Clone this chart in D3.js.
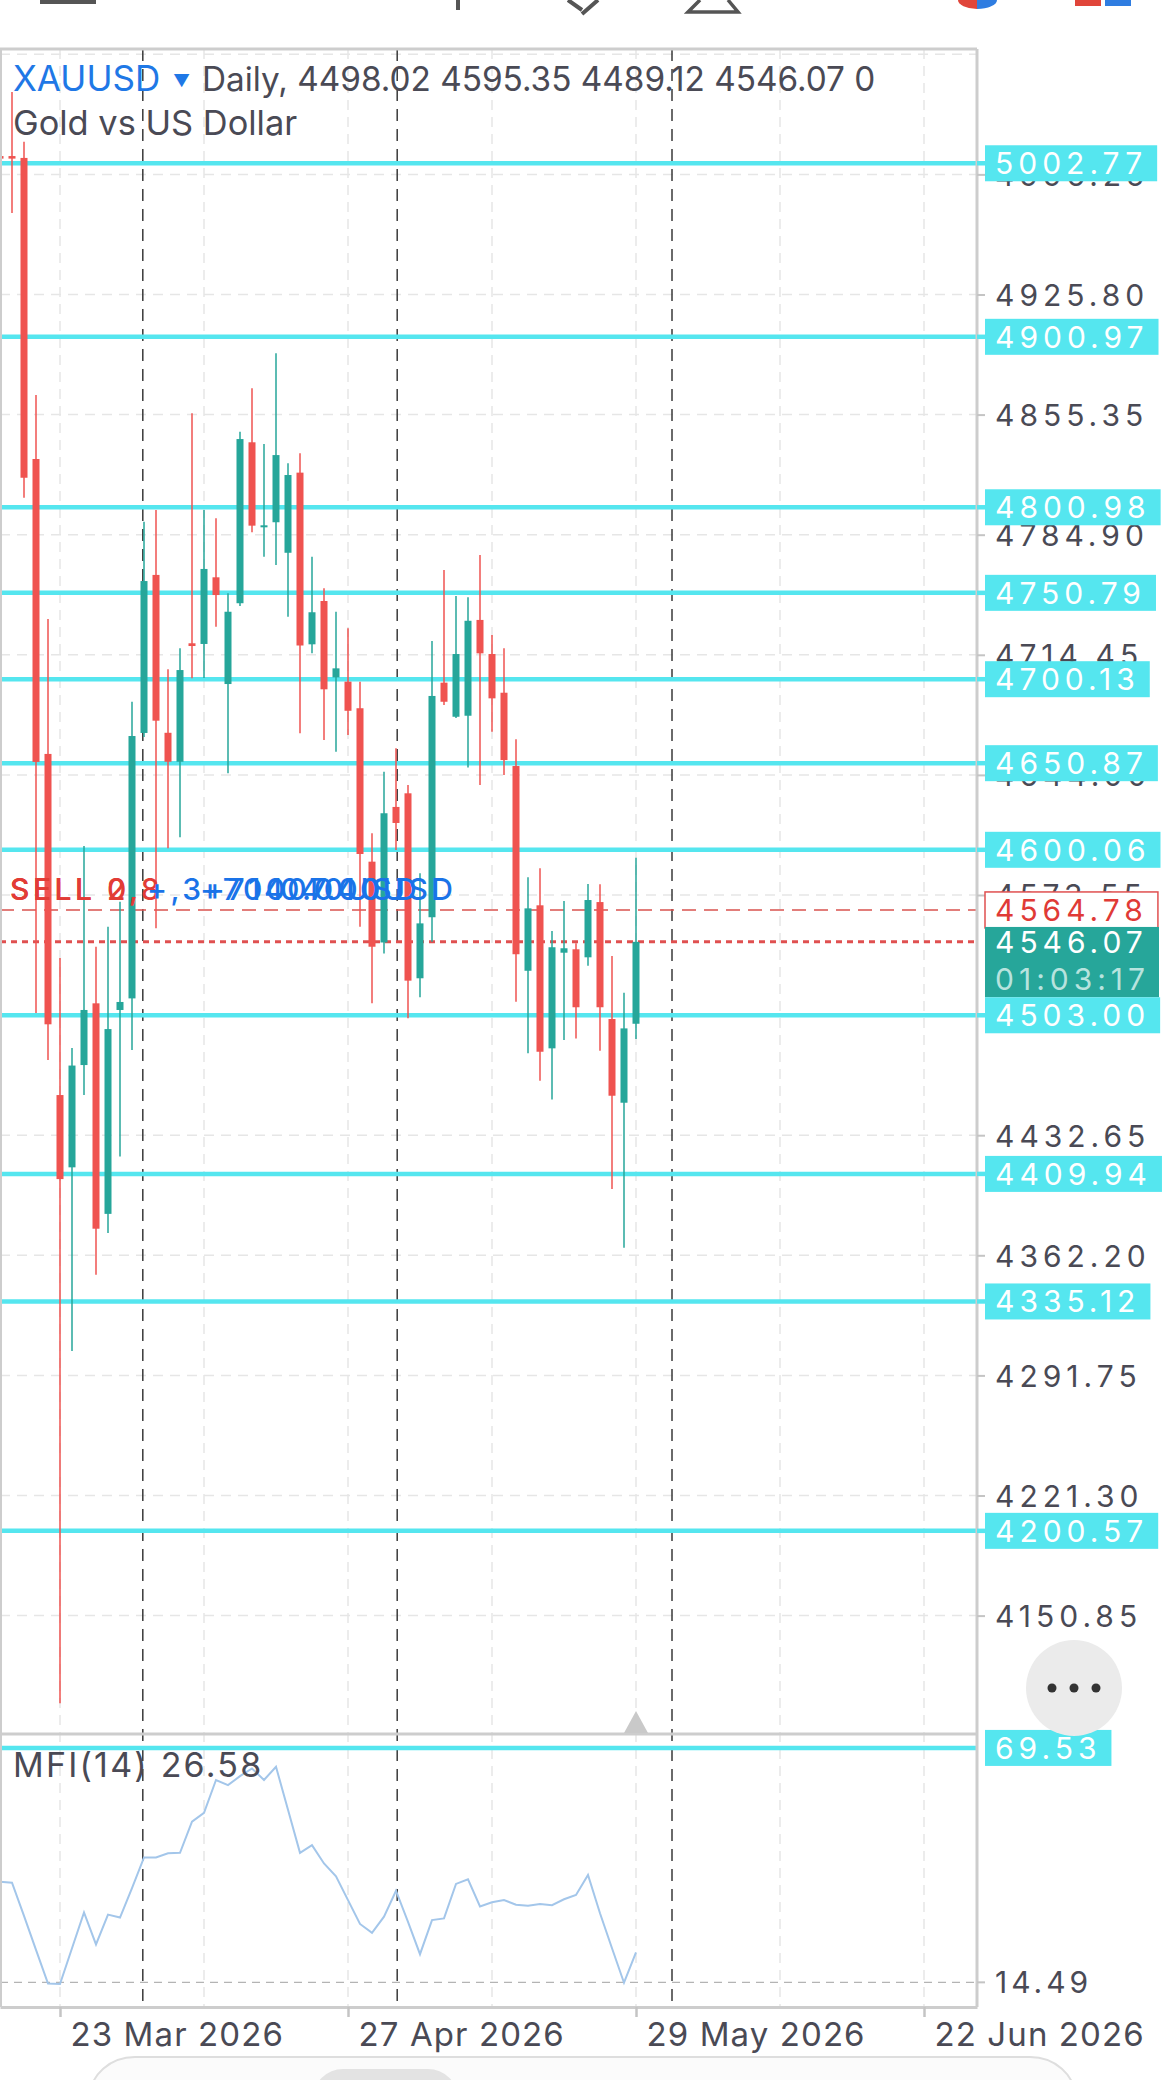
<!DOCTYPE html>
<html>
<head>
<meta charset="utf-8">
<script src="https://cdn.jsdelivr.net/npm/d3@7"></script>
<style>
  html, body { margin: 0; padding: 0; background: #ffffff; }
  svg { display: block; }
</style>
</head>
<body>
<div id="chart"></div>
<script>
// ---- data (daily XAUUSD bars, oldest first) ----
var opens  = [5007.0, 5007.0, 5005.9, 4829.3, 4656.3, 4456.2, 4413.8, 4473.8, 4510.0, 4386.5,
              4506.1, 4512.9, 4668.6, 4761.3, 4668.7, 4651.7, 4721.2, 4720.8, 4759.9, 4697.3,
              4744.7, 4839.1, 4790.0, 4792.2, 4774.3, 4821.3, 4720.6, 4746.0, 4701.2, 4698.7,
              4683.1, 4593.1, 4545.7, 4625.2, 4633.2, 4524.7, 4560.5, 4698.1, 4678.1, 4678.7,
              4734.9, 4714.9, 4692.2, 4649.2, 4529.1, 4567.5, 4483.6, 4539.7, 4541.7, 4537.0,
              4569.4, 4500.8, 4451.7, 4498.02];
var highs  = [5010.0, 5044.6, 5015.4, 4866.8, 4735.4, 4536.6, 4483.8, 4602.3, 4543.2, 4554.9,
              4569.6, 4686.9, 4792.5, 4799.4, 4705.9, 4718.3, 4856.1, 4799.4, 4794.5, 4750.5,
              4845.3, 4870.8, 4838.1, 4891.3, 4826.8, 4832.6, 4772.0, 4753.5, 4739.7, 4730.0,
              4698.7, 4609.7, 4645.9, 4659.6, 4638.1, 4586.3, 4722.5, 4764.2, 4748.9, 4748.2,
              4773.0, 4726.1, 4718.3, 4664.9, 4583.9, 4589.2, 4552.4, 4570.0, 4545.2, 4580.0,
              4579.8, 4537.8, 4516.2, 4595.35];
var lows   = [5003.0, 4973.6, 4806.6, 4504.3, 4476.7, 4099.4, 4306.0, 4456.2, 4350.8, 4375.3,
              4420.1, 4482.6, 4666.2, 4554.0, 4600.9, 4607.4, 4700.7, 4700.8, 4730.9, 4644.9,
              4743.0, 4786.3, 4772.0, 4767.1, 4736.8, 4668.4, 4715.3, 4664.5, 4657.6, 4667.4,
              4554.9, 4510.0, 4539.3, 4599.9, 4501.2, 4513.5, 4546.1, 4685.0, 4677.4, 4648.4,
              4638.1, 4669.3, 4643.9, 4510.9, 4480.7, 4464.6, 4453.6, 4488.5, 4489.4, 4532.1,
              4482.2, 4401.1, 4366.6, 4489.12];
var closes = [5005.5, 5005.5, 4818.3, 4651.6, 4497.7, 4406.9, 4473.5, 4506.1, 4377.8, 4494.9,
              4510.8, 4666.8, 4757.7, 4675.8, 4651.7, 4705.5, 4719.6, 4764.8, 4749.5, 4739.7,
              4841.0, 4790.2, 4790.4, 4831.6, 4819.9, 4719.9, 4739.4, 4694.2, 4706.5, 4681.6,
              4597.6, 4543.2, 4621.5, 4615.8, 4523.3, 4556.9, 4690.3, 4686.9, 4714.9, 4734.4,
              4715.3, 4688.9, 4652.7, 4538.8, 4565.7, 4481.6, 4542.9, 4542.3, 4507.7, 4570.6,
              4507.7, 4455.8, 4495.3, 4546.07];

// MFI(14) per bar
var mfiValues = [38.1, 37.9, 30.1, 22.1, 14.2, 14.1, 22.5, 30.9, 23.4, 30.4,
                 29.7, 36.6, 43.8, 43.8, 44.8, 44.9, 52.2, 54.3, 62.0, 60.8,
                 62.9, 64.7, 62.0, 65.1, 55.0, 44.9, 46.7, 42.4, 39.4, 33.8,
                 28.2, 26.1, 29.9, 36.0, 28.7, 21.1, 29.1, 29.5, 37.6, 38.7,
                 32.3, 33.3, 33.8, 32.7, 32.5, 32.9, 32.6, 34.0, 35.0, 39.7,
                 30.7, 22.5, 14.4, 21.5];

// horizontal levels drawn by the user (cyan)
var levels = [5002.77, 4900.97, 4800.98, 4750.79, 4700.13, 4650.87, 4600.06, 4503.00, 4409.94, 4335.12, 4200.57];
var mfiLevel = 69.53;
var mfiLow = 14.49;
var positionPrice = 4564.78;
var lastPrice = 4546.07;

// price scale ticks
var priceTicks = [5066.70, 4996.25, 4925.80, 4855.35, 4784.90, 4714.45, 4644.00, 4573.55,
                  4503.10, 4432.65, 4362.20, 4291.75, 4221.30, 4150.85];

// time axis (bar index -> label)
var dateTickIdx = [5, 29, 53, 77];
var dateLabels = ["23 Mar 2026", "27 Apr 2026", "29 May 2026", "22 Jun 2026"];
var gridIdx = [5, 17, 29, 41, 53, 65, 77];
var separatorIdx = [11.9, 33.1, 56];

// ---- layout ----
const W = 1170, H = 2080;
const plotRight = 977;
const priceTop = 49, priceBottom = 1734, mfiBottom = 2007;
const bodyWidth = 7;

var upColor = "#26a69a";
var downColor = "#ef5350";
var levelColor = "#55e6ef";
var textColor = "#4a4a55";
var blueColor = "#1f78e6";
var gridColor = "#e6e6e6";
var borderColor = "#cdcdcd";
var fontMain = "Inter, Roboto, 'Noto Sans', sans-serif";

const svg = d3.select("#chart").append("svg")
    .attr("width", W)
    .attr("height", H)
    .style("font-family", fontMain);

svg.append("rect").attr("width", W).attr("height", H).attr("fill", "#ffffff");

// scales: one bar every 12px
const x = d3.scaleLinear().domain([0, plotRight / 12]).range([0, plotRight]);
const y = d3.scaleLinear().domain([4081.4, 5069.8]).range([priceBottom, priceTop]);
const yMfi = d3.scaleLinear().domain([8.7, 72.8]).range([mfiBottom, priceBottom]);

const defs = svg.append("defs");
defs.append("clipPath").attr("id", "clip-price")
    .append("rect").attr("x", 0).attr("y", priceTop).attr("width", plotRight).attr("height", priceBottom - priceTop);
defs.append("clipPath").attr("id", "clip-mfi")
    .append("rect").attr("x", 0).attr("y", priceBottom).attr("width", plotRight).attr("height", mfiBottom - priceBottom);

// ---- cut-off toolbar icons at the very top ----
const topBar = svg.append("g").attr("class", "top-icons");
topBar.append("rect").attr("x", 40).attr("y", 0).attr("width", 56).attr("height", 4).attr("fill", "#555");
topBar.append("path").attr("d", "M458,0 V10").attr("stroke", "#555").attr("stroke-width", 4).attr("fill", "none");
topBar.append("path").attr("d", "M568,0 L582,10 M598,0 L582,14").attr("stroke", "#555").attr("stroke-width", 4).attr("fill", "none");
topBar.append("path").attr("d", "M700,0 L688,12 H738 L728,0").attr("stroke", "#555").attr("stroke-width", 3.5).attr("fill", "none");
topBar.append("path").attr("d", "M958,0 A20,9 0 0 0 977,9 V0 Z").attr("fill", "#e0453a");
topBar.append("path").attr("d", "M977,0 V9 A20,9 0 0 0 997,0 Z").attr("fill", "#2f7de1");
topBar.append("rect").attr("x", 1075).attr("y", 0).attr("width", 26).attr("height", 6).attr("fill", "#e0453a");
topBar.append("rect").attr("x", 1105).attr("y", 0).attr("width", 26).attr("height", 6).attr("fill", "#2f7de1");

// ---- grid ----
const grid = svg.append("g").attr("class", "grid");
grid.selectAll("line.vgrid").data(gridIdx).join("line")
    .attr("class", "vgrid")
    .attr("x1", d => x(d)).attr("x2", d => x(d))
    .attr("y1", priceTop).attr("y2", mfiBottom)
    .attr("stroke", gridColor).attr("stroke-width", 1.5)
    .attr("stroke-dasharray", "10,7");
grid.append("g").attr("clip-path", "url(#clip-price)")
    .selectAll("line.hgrid").data(priceTicks).join("line")
    .attr("class", "hgrid")
    .attr("x1", 0).attr("x2", plotRight)
    .attr("y1", d => y(d)).attr("y2", d => y(d))
    .attr("stroke", gridColor).attr("stroke-width", 1.5)
    .attr("stroke-dasharray", "10,7");

// period separators (dark dashed)
svg.append("g").selectAll("line").data(separatorIdx).join("line")
    .attr("x1", d => x(d)).attr("x2", d => x(d))
    .attr("y1", priceTop).attr("y2", mfiBottom)
    .attr("stroke", "#3a3a3a").attr("stroke-width", 1.5)
    .attr("stroke-dasharray", "12,8");

// ---- price pane ----
const pricePane = svg.append("g").attr("clip-path", "url(#clip-price)");

// cyan levels
pricePane.selectAll("line.level").data(levels).join("line")
    .attr("class", "level")
    .attr("x1", 0).attr("x2", plotRight)
    .attr("y1", d => y(d)).attr("y2", d => y(d))
    .attr("stroke", levelColor).attr("stroke-width", 4.5);

// open position line + current price line
pricePane.append("line")
    .attr("x1", 0).attr("x2", plotRight)
    .attr("y1", y(positionPrice)).attr("y2", y(positionPrice))
    .attr("stroke", "#d9534f").attr("stroke-width", 1.5)
    .attr("stroke-dasharray", "14,8");
pricePane.append("line")
    .attr("x1", 0).attr("x2", plotRight)
    .attr("y1", y(lastPrice)).attr("y2", y(lastPrice))
    .attr("stroke", "#e05050").attr("stroke-width", 3)
    .attr("stroke-dasharray", "6,5");

// candles
var bars = d3.range(opens.length).map(i => ({i: i, o: opens[i], h: highs[i], l: lows[i], c: closes[i]}));
const candles = pricePane.selectAll("g.candle").data(bars).join("g").attr("class", "candle");
candles.append("line")
    .attr("x1", d => x(d.i)).attr("x2", d => x(d.i))
    .attr("y1", d => y(d.h)).attr("y2", d => y(d.l))
    .attr("stroke", d => d.c >= d.o ? upColor : downColor)
    .attr("stroke-width", 1.5);
candles.append("rect")
    .attr("x", d => x(d.i) - bodyWidth / 2)
    .attr("width", bodyWidth)
    .attr("y", d => y(Math.max(d.o, d.c)))
    .attr("height", d => Math.max(2, Math.abs(y(d.o) - y(d.c))))
    .attr("fill", d => d.c >= d.o ? upColor : downColor);

// ---- MFI pane ----
const mfiPane = svg.append("g").attr("clip-path", "url(#clip-mfi)");
mfiPane.append("line")
    .attr("x1", 0).attr("x2", plotRight)
    .attr("y1", yMfi(mfiLow)).attr("y2", yMfi(mfiLow))
    .attr("stroke", "#b4b4b4").attr("stroke-width", 1.3)
    .attr("stroke-dasharray", "8,6");
mfiPane.append("line")
    .attr("x1", 0).attr("x2", plotRight)
    .attr("y1", yMfi(mfiLevel)).attr("y2", yMfi(mfiLevel))
    .attr("stroke", levelColor).attr("stroke-width", 4.5);
mfiPane.append("path")
    .datum(mfiValues)
    .attr("fill", "none")
    .attr("stroke", "#a3c6ea")
    .attr("stroke-width", 2)
    .attr("d", d3.line().x((d, i) => x(i)).y(d => yMfi(d)));

// ---- borders ----
const borders = svg.append("g").attr("stroke", borderColor).attr("fill", "none");
borders.append("line").attr("x1", 0).attr("x2", plotRight).attr("y1", priceTop).attr("y2", priceTop).attr("stroke-width", 3);
borders.append("line").attr("x1", 1).attr("x2", 1).attr("y1", priceTop).attr("y2", mfiBottom).attr("stroke-width", 2);
borders.append("line").attr("x1", plotRight).attr("x2", plotRight).attr("y1", priceTop).attr("y2", mfiBottom).attr("stroke-width", 3);
borders.append("line").attr("x1", 0).attr("x2", plotRight).attr("y1", priceBottom).attr("y2", priceBottom).attr("stroke-width", 3);

// small marker of the current bar above the separator
svg.append("path")
    .attr("d", `M${x(53) - 12},${priceBottom - 1} L${x(53)},${priceBottom - 23} L${x(53) + 12},${priceBottom - 1} Z`)
    .attr("fill", "#c9c9c9");

// ---- header texts ----
svg.append("text").attr("x", 13).attr("y", 91)
    .style("font-size", "35px").attr("fill", blueColor).text("XAUUSD");
svg.append("text").attr("x", 173).attr("y", 87)
    .style("font-size", "17px").attr("fill", blueColor).text("▼");
svg.append("text").attr("x", 202).attr("y", 91)
    .style("font-size", "33.3px").attr("fill", textColor).text("Daily, 4498.02 4595.35 4489.12 4546.07 0");
svg.append("text").attr("x", 13).attr("y", 135)
    .style("font-size", "34.4px").attr("fill", textColor).text("Gold vs US Dollar");
svg.append("text").attr("x", 13).attr("y", 1777)
    .style("font-size", "34px").style("letter-spacing", "2.2px")
    .attr("fill", textColor).text("MFI(14) 26.58");

// trade labels, overlapping as in the app
function tradeText(tx, txt, color) {
    svg.append("text").attr("x", tx).attr("y", 900)
        .style("font-size", "30px").style("letter-spacing", "3.5px").style("font-weight", 500)
        .attr("fill", color).text(txt);
}
tradeText(10, "SELL 0,", "#e23c36");
tradeText(10, "SELL 2,8", "#e23c36");
tradeText(147, "+,3+71407.00", "#1a73e8");
tradeText(200, "+700.40USD", "#1a73e8");
tradeText(280, "0.040USD", "#1a73e8");

// ---- right price scale ----
const priceAxis = d3.axisRight(y)
    .tickValues(priceTicks.filter(v => y(v) > 80))
    .tickFormat(d3.format(".2f"))
    .tickSize(8)
    .tickPadding(10);
const pa = svg.append("g").attr("transform", `translate(${plotRight},0)`).call(priceAxis);
pa.select(".domain").remove();
pa.selectAll(".tick line").attr("stroke", "#c4c4c4").attr("stroke-width", 2);
pa.selectAll(".tick text")
    .attr("fill", textColor)
    .attr("dy", "0.36em")
    .style("font-family", fontMain)
    .style("font-size", "30px")
    .style("letter-spacing", "5px");

// boxed labels on the price scale
function boxLabel(value, yPos, fill, textFill, stroke) {
    const g = svg.append("g");
    const t = g.append("text")
        .attr("x", plotRight + 18).attr("y", yPos).attr("dy", "0.36em")
        .style("font-size", "30px").style("letter-spacing", "5px")
        .attr("fill", textFill).text(value);
    const w = t.node().getBBox().width;
    g.insert("rect", "text")
        .attr("x", plotRight + 8).attr("y", yPos - 18)
        .attr("width", w + 20).attr("height", 36)
        .attr("fill", fill)
        .attr("stroke", stroke || "none").attr("stroke-width", 1.5);
    return w;
}

levels.forEach(v => {
    svg.append("line")
        .attr("x1", plotRight).attr("x2", plotRight + 8)
        .attr("y1", y(v)).attr("y2", y(v))
        .attr("stroke", levelColor).attr("stroke-width", 4.5);
});
// 4503.00 is drawn after the current price block so it stays on top
levels.filter(v => v !== 4503.00).forEach(v => boxLabel(d3.format(".2f")(v), y(v), levelColor, "#ffffff"));

boxLabel(d3.format(".2f")(positionPrice), y(positionPrice), "#ffffff", "#e03a36", "#e05050");

// current price block with countdown
const cur = svg.append("g");
const curTop = y(positionPrice) + 17;
const curText = cur.append("text")
    .attr("x", plotRight + 18).attr("y", y(lastPrice)).attr("dy", "0.36em")
    .style("font-size", "30px").style("letter-spacing", "5px")
    .attr("fill", "#ffffff").text(d3.format(".2f")(lastPrice));
cur.append("text")
    .attr("x", plotRight + 18).attr("y", y(lastPrice) + 37).attr("dy", "0.36em")
    .style("font-size", "30px").style("letter-spacing", "5px")
    .attr("fill", "#b8e3de").text("01:03:17");
const curW = Math.max(curText.node().getBBox().width, 160);
cur.insert("rect", "text")
    .attr("x", plotRight + 8).attr("y", curTop)
    .attr("width", curW + 14).attr("height", y(4503.00) - 18 - curTop)
    .attr("fill", upColor);
boxLabel("4503.00", y(4503.00), levelColor, "#ffffff");

// ---- MFI scale labels ----
svg.append("line")
    .attr("x1", plotRight).attr("x2", plotRight + 8)
    .attr("y1", yMfi(mfiLow)).attr("y2", yMfi(mfiLow))
    .attr("stroke", "#c4c4c4").attr("stroke-width", 2);
svg.append("text")
    .attr("x", plotRight + 18).attr("y", yMfi(mfiLow)).attr("dy", "0.36em")
    .style("font-size", "30px").style("letter-spacing", "4px")
    .attr("fill", textColor).text(d3.format(".2f")(mfiLow));
boxLabel(d3.format(".2f")(mfiLevel), yMfi(mfiLevel), levelColor, "#ffffff");

// ---- time axis ----
const dateAxis = d3.axisBottom(x)
    .tickValues(dateTickIdx)
    .tickFormat((d, i) => dateLabels[i])
    .tickSize(10)
    .tickSizeOuter(0);
const da = svg.append("g").attr("transform", `translate(0,${mfiBottom})`).call(dateAxis);
da.select(".domain").attr("stroke", borderColor).attr("stroke-width", 3);
da.selectAll(".tick line").attr("stroke", "#c4c4c4").attr("stroke-width", 2.5);
da.selectAll(".tick text")
    .attr("text-anchor", "start")
    .attr("x", 10)
    .attr("y", 39)
    .attr("dy", null)
    .attr("fill", textColor)
    .style("font-family", fontMain)
    .style("font-size", "33px")
    .style("letter-spacing", "1.1px");

// ---- floating "more" button ----
const more = svg.append("g");
more.append("circle").attr("cx", 1074).attr("cy", 1688).attr("r", 48).attr("fill", "#ebebeb");
more.selectAll("circle.dot").data([-22, 0, 22]).join("circle")
    .attr("class", "dot")
    .attr("cx", d => 1074 + d).attr("cy", 1688).attr("r", 4.5).attr("fill", "#333");

// ---- bottom bar of the app ----
svg.append("rect")
    .attr("x", 90).attr("y", 2057).attr("width", 985).attr("height", 80).attr("rx", 45)
    .attr("fill", "#fbfbfb").attr("stroke", "#dedede").attr("stroke-width", 2);
svg.append("rect")
    .attr("x", 313).attr("y", 2069).attr("width", 145).attr("height", 60).attr("rx", 30)
    .attr("fill", "#e3e3e3");
</script>
</body>
</html>
